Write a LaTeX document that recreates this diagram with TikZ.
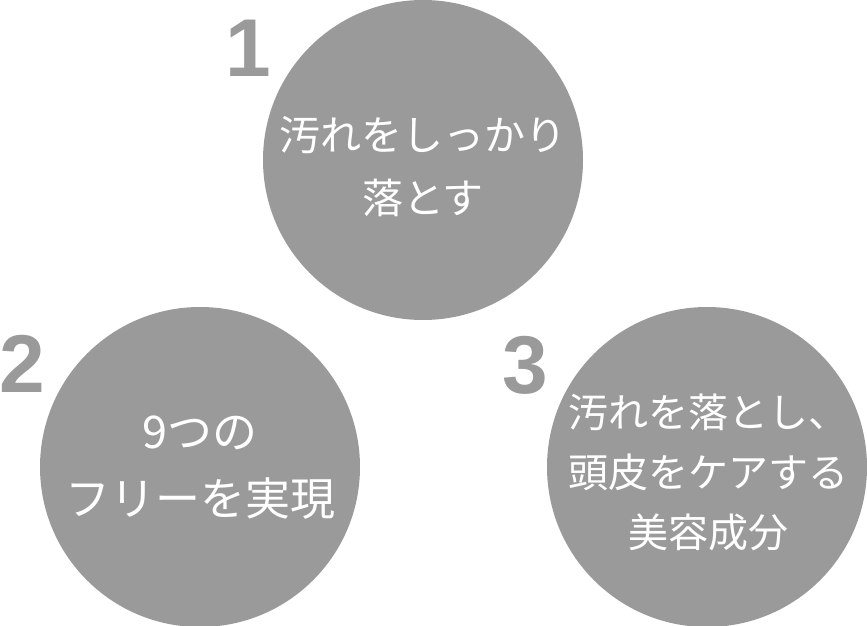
\documentclass[tikz,border=0pt]{standalone}
\usepackage{fontspec}
\setmainfont{Liberation Sans}
\newfontfamily\jpfont{Noto Sans CJK JP}
\usetikzlibrary{positioning}
\definecolor{disc}{HTML}{9A9A9A}
\definecolor{numgray}{HTML}{9A9A9A}
\tikzset{
  point/.style={circle,fill=disc,minimum size=320pt,inner sep=0pt},
  caption/.style={align=center,text=white,inner sep=0pt},
  num/.style={text=numgray,font=\bfseries\fontsize{82}{82}\selectfont,inner sep=0pt}
}
\begin{document}
\begin{tikzpicture}[x=1pt,y=-1pt]
  \useasboundingbox (0,0) rectangle (867,626);

  \node[point] (p1) at (423,160) {};
  \node[point] (p2) at (200,467) {};
  \node[point] (p3) at (707,467) {};

  \node[caption,font=\jpfont\fontsize{41}{63}\selectfont] (t1) at ([yshift=-7pt]p1.center) {汚れをしっかり\\落とす};
  \node[caption,font=\jpfont\fontsize{45}{67}\selectfont] (t2) at ([yshift=-1pt]p2.center) {9つの\\フリーを実現};
  \node[caption,font=\jpfont\fontsize{40}{60}\selectfont] (t3) at ([xshift=1pt,yshift=-5pt]p3.center) {汚れを落とし、\\頭皮をケアする\\美容成分};

  \node[num] (n1) at (248,48) {1};
  \node[num] (n2) at (22,364) {2};
  \node[num] (n3) at (525,365) {3};
\end{tikzpicture}
\end{document}
